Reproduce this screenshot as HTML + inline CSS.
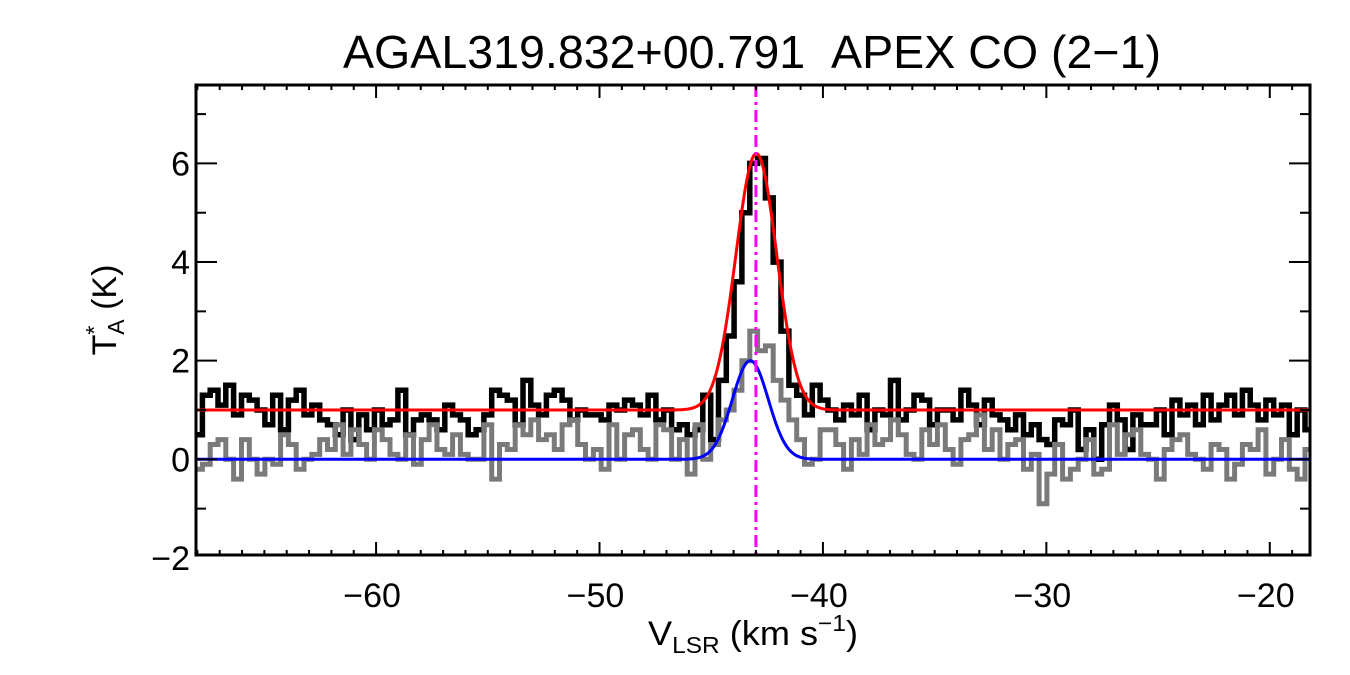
<!DOCTYPE html>
<html><head><meta charset="utf-8"><style>
html,body{margin:0;padding:0;background:#fff;}
svg{display:block;font-family:"Liberation Sans",Arial,sans-serif;}
</style></head><body>
<svg id="chart" width="1350" height="675" viewBox="0 0 1350 675" xmlns="http://www.w3.org/2000/svg">
<text x="752" y="68" font-size="46" text-anchor="middle" textLength="818" lengthAdjust="spacingAndGlyphs">AGAL319.832+00.791&#160;&#160;APEX CO (2−1)</text>
<g id="plot"></g>
<g id="axes"></g>
<text x="648" y="645" font-size="34" textLength="210" lengthAdjust="spacingAndGlyphs">V<tspan font-size="23" dy="8">LSR</tspan><tspan dy="-8"> (km s</tspan><tspan font-size="23" dy="-14">−1</tspan><tspan dy="14">)</tspan></text>
<text transform="translate(116,310) rotate(-90)" font-size="34" text-anchor="middle">T<tspan font-size="23" dy="-14">*</tspan><tspan font-size="23" dx="-9" dy="22">A</tspan><tspan dy="-8"> (K)</tspan></text>
</svg>
<script>
const v0 = -68.3;
const dv = 0.35;
const blackSpec = [1.5,0.5,1.3,1.4,1.1,1.5,0.9,1.3,1.2,1.0,0.7,1.3,0.6,1.2,1.4,0.9,1.1,0.8,0.7,0.5,1.0,0.4,0.9,0.6,1.0,
0.7,0.8,1.4,0.5,0.8,0.9,0.8,0.6,1.1,0.9,0.8,0.5,0.6,0.9,1.4,1.3,1.2,0.7,1.6,1.1,0.9,1.3,1.4,1.2,0.8,
1.0,0.9,0.9,0.8,1.1,1.0,1.2,1.1,0.9,1.3,0.8,1.0,0.6,0.7,0.5,
0.6,1.3,0.4,1.6,
2.5,3.6,5.0,6.0,6.1,5.3,4.0,2.6,1.5,1.3,0.9,
1.5,1.2,1.0,0.8,1.1,0.9,1.3,0.6,1.0,0.9,1.6,0.8,1.0,1.3,1.2,0.7,1.0,1.0,0.8,1.4,
1.1,0.7,1.2,0.9,0.8,0.6,0.9,0.5,0.7,0.4,0.3,0.8,0.7,1.0,0.2,0.6,0.0,0.7,1.1,0.8,
0.2,0.9,0.7,0.7,1.0,0.5,1.2,0.9,1.1,0.7,1.3,0.8,1.1,1.3,0.9,1.4,1.1,0.8,1.2,0.9,1.1,0.5,1.0,0.6,0.7,1.2];
const graySpec = [0.1,-0.2,-0.1,0.3,0.4,0.0,-0.4,0.4,0.0,-0.3,0.0,-0.1,0.5,0.3,-0.2,0.0,0.1,0.4,0.2,0.7,0.1,0.6,0.3,0.0,0.6,
0.4,0.1,0.0,0.5,-0.1,0.4,0.7,0.2,0.1,0.5,0.1,0.0,0.0,0.7,-0.4,0.3,0.2,0.7,0.5,0.8,0.4,0.5,0.2,0.7,0.8,
0.3,0.0,0.2,-0.2,0.7,0.0,0.5,0.6,0.2,0.0,0.7,0.6,0.0,0.4,-0.3,
0.7,0.0,0.3,0.8,
1.0,1.4,2.0,2.6,2.2,2.3,1.6,1.2,0.8,0.4,-0.1,
0.0,0.6,0.6,0.3,-0.2,0.4,0.1,0.7,0.3,0.4,0.8,0.5,0.1,0.0,0.6,0.3,0.7,0.2,-0.1,0.4,0.5,0.9,0.2,0.6,0.0,0.3,0.4,-0.2,0.1,-0.9,
-0.3,0.3,-0.4,-0.2,0.0,0.4,-0.3,-0.2,0.7,0.1,0.5,0.6,0.1,0.0,-0.4,0.2,0.4,0.5,0.1,0.0,-0.2,0.3,0.2,-0.4,-0.1,0.3,0.2,0.6,-0.3,0.0,0.4,-0.2,-0.4,0.2,0.0,-0.5];
const redFit = [1.0, 5.2, -42.98, 2.15];   // base, amp, center, fwhm
const blueFit = [0.0, 2.0, -43.25, 1.9];
const vMarker = -43.0;
const xTicks = [-60,-50,-40,-30,-20];
const xTickLabels = ["−60","−50","−40","−30","−20"];
const yTicks = [-2,0,2,4,6];
const yTickLabels = ["−2","0","2","4","6"];

const L=196,R=1310,T=85,B=555;
const xmin=-68.06,xmax=-18.2,ymin=-1.94,ymax=7.59;
const X=v=>L+(v-xmin)/(xmax-xmin)*(R-L);
const Y=t=>B-(t-ymin)/(ymax-ymin)*(B-T);
const NS='http://www.w3.org/2000/svg';
const plot=document.getElementById('plot'), axes=document.getElementById('axes');
function mk(tag,attrs,parent){const e=document.createElementNS(NS,tag);for(const k in attrs)e.setAttribute(k,attrs[k]);parent.appendChild(e);return e;}
const cp=mk('clipPath',{id:'clip'},plot);mk('rect',{x:L,y:T,width:R-L,height:B-T},cp);
const g=mk('g',{'clip-path':'url(#clip)'},plot);
function stepPath(arr){let d='';arr.forEach((t,i)=>{const v=v0+i*dv;const xa=X(v-dv/2),xb=X(v+dv/2),y=Y(t);d+=(i?'L':'M')+xa.toFixed(1)+','+y.toFixed(1)+'L'+xb.toFixed(1)+','+y.toFixed(1);});return d;}
const pb=mk('path',{d:stepPath(blackSpec),fill:'none',stroke:'#000','stroke-width':5.5},g);


const pg=mk('path',{d:stepPath(graySpec),fill:'none',stroke:'#7a7a7a','stroke-width':5},g);


function gauss(p){const s=p[3]/2.3548;let d='';for(let px=L;px<=R;px+=1){const v=xmin+(px-L)/(R-L)*(xmax-xmin);const t=p[0]+p[1]*Math.exp(-0.5*((v-p[2])/s)**2);d+=(px===L?'M':'L')+px+','+Y(t).toFixed(1);}return d;}
const pr=mk('path',{d:gauss(redFit),fill:'none',stroke:'#ff0000','stroke-width':3},g);


const pbl=mk('path',{d:gauss(blueFit),fill:'none',stroke:'#0000ff','stroke-width':3},g);


const vm=mk('line',{x1:X(vMarker),x2:X(vMarker),y1:T,y2:B,stroke:'#ff00ff','stroke-width':3,'stroke-dasharray':'12,5,3,5'},g);


const fr=mk('rect',{x:L,y:T,width:R-L,height:B-T,fill:'none',stroke:'#000','stroke-width':3},axes);


for(let v=Math.ceil(xmin);v<=xmax;v++){const major=v%10===0;const len=major?13:5;const x=X(v);
 mk('line',{x1:x,x2:x,y1:B,y2:B-len,stroke:'#000','stroke-width':2},axes);
 mk('line',{x1:x,x2:x,y1:T,y2:T+len,stroke:'#000','stroke-width':2},axes);}
for(let t=Math.ceil(ymin);t<=ymax;t++){const major=t%2===0;const len=major?21:10;const y=Y(t);
 mk('line',{x1:L,x2:L+len,y1:y,y2:y,stroke:'#000','stroke-width':2},axes);
 mk('line',{x1:R,x2:R-len,y1:y,y2:y,stroke:'#000','stroke-width':2},axes);}
xTicks.forEach((v,i)=>{const t=mk('text',{x:X(v)-4,y:607,'font-size':34,'text-anchor':'middle'},axes);t.textContent=xTickLabels[i];
 
 });
yTicks.forEach((v,i)=>{const t=mk('text',{x:190,y:Y(v)+12,'font-size':34,'text-anchor':'end'},axes);t.textContent=yTickLabels[i];
 
 });
</script>
</body></html>
